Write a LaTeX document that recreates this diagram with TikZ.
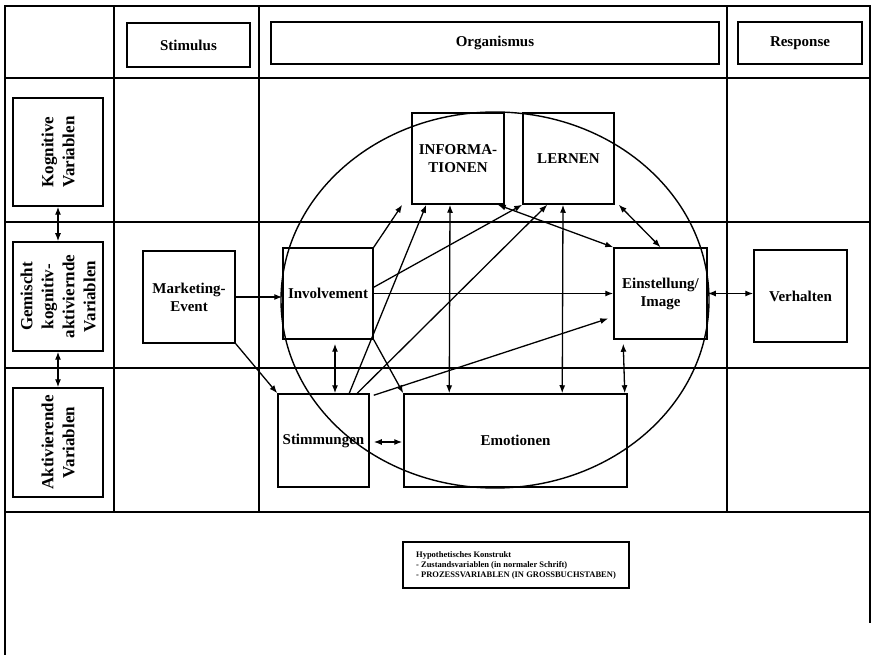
\documentclass[tikz,border=0pt]{standalone}
\usepackage{fontspec}
\setmainfont{Liberation Serif}
\usetikzlibrary{arrows.meta, calc}

\begin{document}
\begin{tikzpicture}[x = 1pt, y = -1pt, line width = 1.5pt,
    every node/.style = {font = \bfseries\fontsize{15}{18}\selectfont, align = center, inner sep = 0pt},
    box/.style = {draw, line width = 1.5pt},
    varbox/.style = {box, rotate = 90, font = \bfseries\fontsize{17}{21}\selectfont},
    arr/.style = {line width = 1.3pt, -{Latex[length = 8pt, width = 6pt]}},
    dbl/.style = {line width = 1.3pt, {Latex[length = 8pt, width = 6pt]}-{Latex[length = 8pt, width = 6pt]}}]
    \useasboundingbox (0,0) rectangle (871,655);
    % grid
    \draw (5,655) -- (5,6) -- (870,6) -- (870,623);
    \foreach \y in {78, 222, 368, 512}
        \draw (5,\y) -- (870,\y);
    \foreach \x in {114, 259, 727}
        \draw (\x,6) -- (\x,512);
    % header
    \node[box, minimum width = 123pt, minimum height = 44pt] (stimulus) at (188.5,45) {Stimulus};
    \node[box, minimum width = 448pt, minimum height = 42pt] (organismus) at (495,43) {Organismus};
    \node[box, minimum width = 124pt, minimum height = 42pt] (response) at (800,43) {Response};
    % variables
    \node[varbox, minimum width = 108pt, minimum height = 90pt] (kog) at (58,152) {Kognitive\\Variablen};
    \node[varbox, minimum width = 109pt, minimum height = 90pt] (gem) at (58,296.5) {Gemischt\\kognitiv-\\aktiviernde\\Variablen};
    \node[varbox, minimum width = 109pt, minimum height = 90pt] (akt) at (58,442.5) {Aktivierende\\Variablen};
    % model
    \node[box, minimum width = 92pt, minimum height = 92pt] (market) at (189,297) {Marketing-\\Event};
    \node[box, minimum width = 90pt, minimum height = 91pt] (invol) at (328,293.5) {Involvement};
    \node[box, minimum width = 92pt, minimum height = 91pt] (info) at (458,158.5) {INFORMA-\\TIONEN};
    \node[box, minimum width = 91pt, minimum height = 91pt] (lern) at (568.5,158.5) {LERNEN};
    \node[box, minimum width = 93pt, minimum height = 91pt] (einst) at (660.5,293.5) {Einstellung/\\Image};
    \node[box, minimum width = 93pt, minimum height = 92pt] (verh) at (800.5,296) {Verhalten};
    \node[box, minimum width = 91pt, minimum height = 93pt] (stimm) at (323.5,440.5) {Stimmungen};
    \node[box, minimum width = 223pt, minimum height = 93pt] (emo) at (515.5,440.5) {Emotionen};
    \node[box, align = left, minimum width = 226pt, minimum height = 46pt,
        font = \bfseries\fontsize{8.5}{10}\selectfont] (legend) at (516,565)
        {Hypothetisches Konstrukt\\- Zustandsvariablen (in normaler Schrift)\\- PROZESSVARIABLEN (IN GROSSBUCHSTABEN)};
    \draw[line width = 1.4pt] (495,300) ellipse [x radius = 214pt, y radius = 188pt];
    % connectors
    \draw[dbl] (kog.west) -- (gem.east);
    \draw[dbl] (gem.west) -- (akt.east);
    \draw[arr] (market.east) -- (market.east -| invol.west);
    \draw[arr] (market.south east) -- (stimm.north west);
    \draw[arr] (invol.east) -- (einst.west);
    \draw[arr] (invol.north east) -- ($(info.south west) + (-9,0)$);
    \draw[arr] ($(invol.north east) + (0,40)$) -- (lern.south west);
    \draw[arr] ($(stimm.north west) + (72,0)$) -- ($(info.south west) + (15,0)$);
    \draw[arr] ($(stimm.north west) + (80,0)$) -- ($(lern.south west) + (25,0)$);
    \draw[arr] ($(stimm.north east) + (4,2)$) -- ($(einst.west) + (-5,25)$);
    \draw[arr] (invol.south east) -- (emo.north west);
    \draw[dbl] ($(invol.south) + (7,4)$) -- ($(stimm.north) + (11.5,0)$);
    \draw[dbl] ($(info.south) + (-8,0)$) -- ($(emo.north west) + (46,0)$);
    \draw[dbl] ($(lern.south) + (-5.5,0)$) -- ($(emo.north west) + (159,0)$);
    \draw[dbl] ($(einst.south west) + (10,4)$) -- ($(emo.north east) + (-3,0)$);
    \draw[dbl] ($(info.south east) + (-7,0)$) -- (einst.north west);
    \draw[dbl] ($(lern.south east) + (4,0)$) -- (einst.north);
    \draw[dbl] (einst.east) -- (einst.east -| verh.west);
    \draw[dbl] ($(stimm.east) + (4,1.5)$) -- ($(emo.west) + (-1,1.5)$);
\end{tikzpicture}
\end{document}
